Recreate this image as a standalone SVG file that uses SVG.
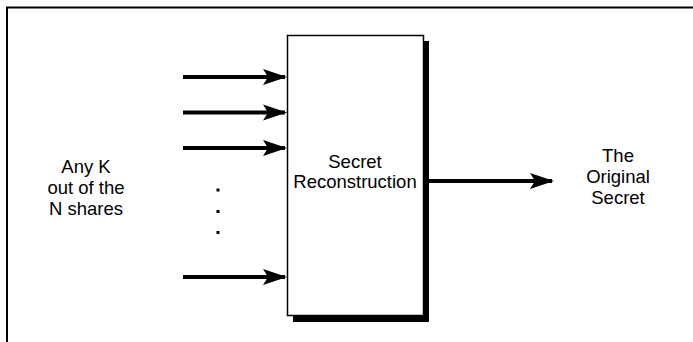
<svg xmlns="http://www.w3.org/2000/svg" width="693" height="342" viewBox="0 0 693 342">
  <style>
    .lbl { font-family: "Liberation Sans", Arial, sans-serif; font-size: 18.5px; fill: #000; text-anchor: middle; }
    .arrow { stroke: #000; stroke-width: 4; fill: none; marker-end: url(#head); }
  </style>
  <defs>
    <marker id="head" viewBox="0 0 24 18" refX="22" refY="9" markerWidth="24" markerHeight="18" markerUnits="userSpaceOnUse" orient="auto">
      <path d="M0,1 L24,9 L0,17 L5,9 Z" fill="#000"/>
    </marker>
  </defs>
  <rect width="693" height="342" fill="#fff"/>
  <!-- frame, open on the right and bottom -->
  <path d="M7,350 L7,7.5 L700,7.5" fill="none" stroke="#000" stroke-width="2"/>

  <g id="inputs">
    <text class="lbl" x="86" y="173">Any K</text>
    <text class="lbl" x="86" y="194">out of the</text>
    <text class="lbl" x="86" y="215">N shares</text>
  </g>

  <g id="reconstruction">
    <rect x="293" y="41" width="136" height="281" fill="#000"/>
    <rect x="287.5" y="35.5" width="136" height="280" fill="#fff" stroke="#000" stroke-width="1.5"/>
    <text class="lbl" x="355" y="168">Secret</text>
    <text class="lbl" x="355" y="188">Reconstruction</text>
  </g>

  <g id="output">
    <text class="lbl" x="618" y="162">The</text>
    <text class="lbl" x="618" y="183">Original</text>
    <text class="lbl" x="618" y="204">Secret</text>
  </g>

  <g id="connectors">
    <line class="arrow" x1="183" y1="77" x2="285" y2="77"/>
    <line class="arrow" x1="183" y1="112.5" x2="285" y2="112.5"/>
    <line class="arrow" x1="183" y1="148" x2="285" y2="148"/>
    <line class="arrow" x1="183" y1="277" x2="285" y2="277"/>
    <line class="arrow" x1="429" y1="181" x2="552" y2="181"/>
    <rect x="216.5" y="188.5" width="3" height="3" fill="#000"/>
    <rect x="216.5" y="210" width="3" height="3" fill="#000"/>
    <rect x="216.5" y="231" width="3" height="3" fill="#000"/>
  </g>
</svg>
